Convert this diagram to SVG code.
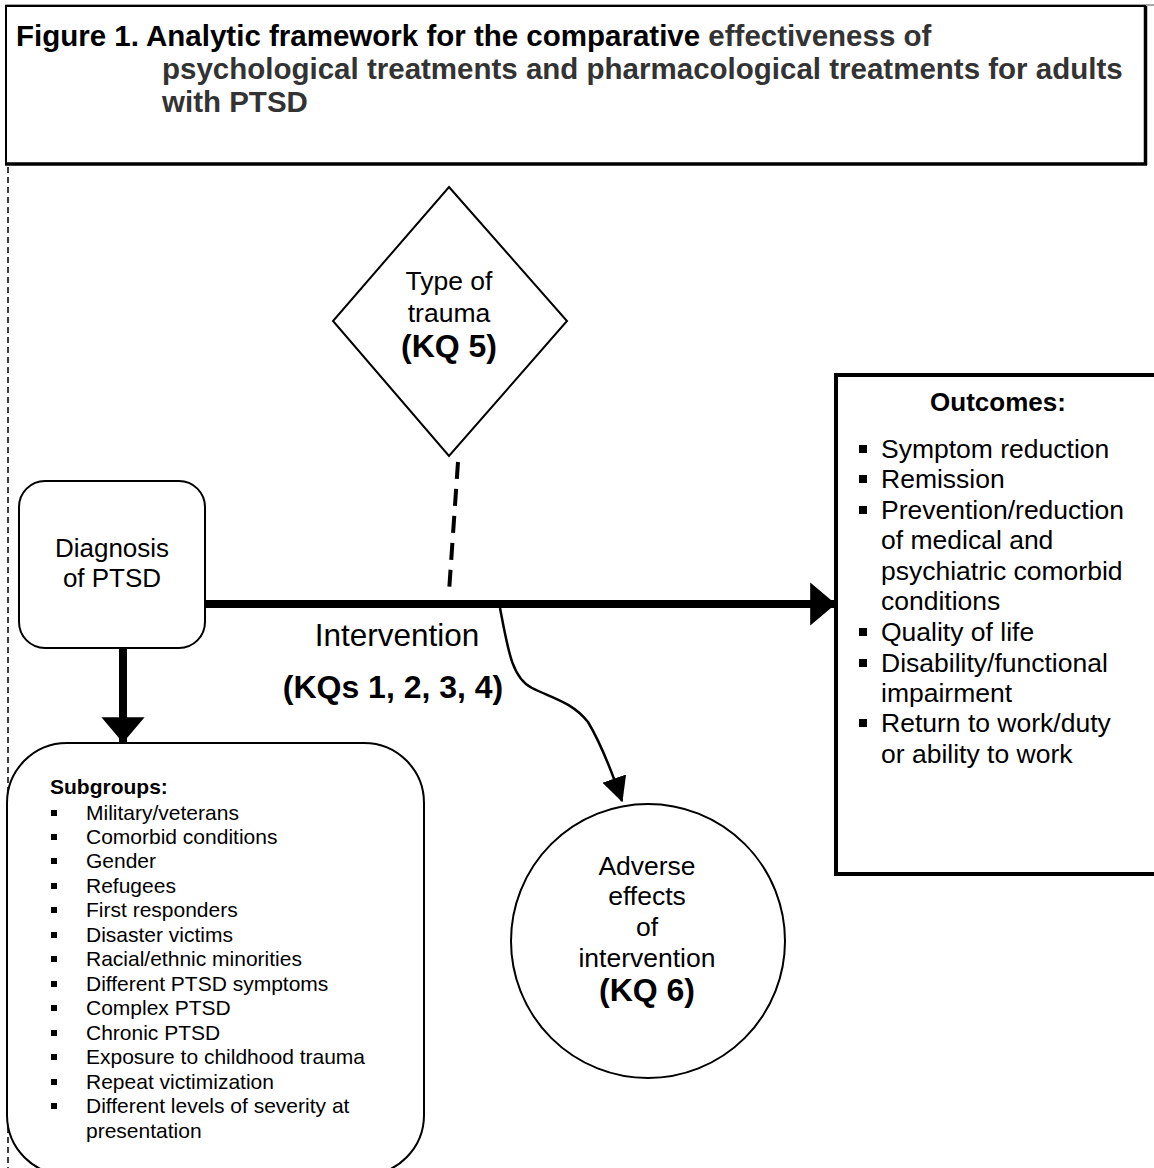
<svg xmlns="http://www.w3.org/2000/svg" width="1154" height="1168" viewBox="0 0 1154 1168">
<style>
text{font-family:"Liberation Sans",Arial,sans-serif;fill:#000}
.t{font-size:29.5px;font-weight:bold}
.g{fill:#333}
.n{font-size:26.5px;text-anchor:middle}
.k{font-size:32px;font-weight:bold;text-anchor:middle}
.s{font-size:21px}
.o{font-size:26.5px}
.shape{fill:#fff;stroke:#000;stroke-width:2}
</style>
<defs>
<marker id="ah" markerWidth="3.2" markerHeight="5.4" refX="3.1" refY="2.7" orient="auto" markerUnits="strokeWidth" viewBox="0 0 3.2 5.4"><path d="M0,0 L3.2,2.7 L0,5.4 Z" fill="#000"/></marker>
<marker id="ah2" markerWidth="10" markerHeight="10" refX="9.5" refY="5" orient="auto" markerUnits="strokeWidth" viewBox="0 0 10 10"><path d="M0,0 L10,5 L0,10 Z" fill="#000"/></marker>
</defs>
<rect width="1154" height="1168" fill="#fff"/>
<g id="title">
<line x1="5" y1="5" x2="1154" y2="5" stroke="#888" stroke-width="1.5"/>
<rect x="6" y="6" width="1139" height="158" fill="#fff" stroke="#000" stroke-width="2"/>
<line x1="5" y1="164" x2="1147" y2="164" stroke="#000" stroke-width="3.5"/>
<line x1="1145.5" y1="6" x2="1145.5" y2="165" stroke="#000" stroke-width="3.5"/>
<text class="t" x="16" y="46">Figure 1. Analytic framework for the comparative <tspan class="g">effectiveness of</tspan></text>
<text class="t g" x="162" y="79">psychological treatments and pharmacological treatments for adults</text>
<text class="t g" x="162" y="112">with PTSD</text>
</g>
<line x1="8" y1="167" x2="8" y2="1168" stroke="#000" stroke-width="1.5" stroke-dasharray="6,4"/>
<g id="connectors">
<path d="M458,462 L449,592" fill="none" stroke="#000" stroke-width="4" stroke-dasharray="17,10"/>
<line x1="205" y1="604" x2="835" y2="604" stroke="#000" stroke-width="8" marker-end="url(#ah)"/>
<line x1="123" y1="648" x2="123" y2="742" stroke="#000" stroke-width="8" marker-end="url(#ah)"/>
<path d="M500,608 C508,650 512,678 532,688 C552,698 572,702 588,722 C600,742 612,772 622,801" fill="none" stroke="#000" stroke-width="2.5" marker-end="url(#ah2)"/>
<text class="n" x="397" y="646" style="font-size:31.5px">Intervention</text>
<text class="k" x="393" y="698">(KQs 1, 2, 3, 4)</text>
</g>
<g id="trauma">
<polygon class="shape" points="449,187 567,321 449,456 333,321"/>
<text class="n" x="449" y="290">Type of</text>
<text class="n" x="449" y="322">trauma</text>
<text class="k" x="449" y="357">(KQ 5)</text>
</g>
<g id="diagnosis">
<rect class="shape" x="19" y="481" width="186" height="167" rx="26"/>
<text class="n" x="112" y="557" style="font-size:26px">Diagnosis</text>
<text class="n" x="112" y="587" style="font-size:26px">of PTSD</text>
</g>
<g id="subgroups">
<rect class="shape" x="7" y="743" width="417" height="432" rx="60"/>
<text class="s" x="50" y="794" style="font-weight:bold">Subgroups:</text>
<g fill="#000">
<rect x="51" y="810" width="6" height="6"/><rect x="51" y="834" width="6" height="6"/><rect x="51" y="858" width="6" height="6"/><rect x="51" y="883" width="6" height="6"/><rect x="51" y="907" width="6" height="6"/><rect x="51" y="932" width="6" height="6"/><rect x="51" y="956" width="6" height="6"/><rect x="51" y="981" width="6" height="6"/><rect x="51" y="1005" width="6" height="6"/><rect x="51" y="1030" width="6" height="6"/><rect x="51" y="1054" width="6" height="6"/><rect x="51" y="1079" width="6" height="6"/><rect x="51" y="1103" width="6" height="6"/>
</g>
<text class="s" x="86" y="820">Military/veterans</text>
<text class="s" x="86" y="844">Comorbid conditions</text>
<text class="s" x="86" y="868">Gender</text>
<text class="s" x="86" y="893">Refugees</text>
<text class="s" x="86" y="917">First responders</text>
<text class="s" x="86" y="942">Disaster victims</text>
<text class="s" x="86" y="966">Racial/ethnic minorities</text>
<text class="s" x="86" y="991">Different PTSD symptoms</text>
<text class="s" x="86" y="1015">Complex PTSD</text>
<text class="s" x="86" y="1040">Chronic PTSD</text>
<text class="s" x="86" y="1064">Exposure to childhood trauma</text>
<text class="s" x="86" y="1089">Repeat victimization</text>
<text class="s" x="86" y="1113">Different levels of severity at</text>
<text class="s" x="86" y="1138">presentation</text>
</g>
<g id="adverse">
<circle class="shape" cx="648" cy="941" r="137"/>
<text class="n" x="647" y="875">Adverse</text>
<text class="n" x="647" y="905">effects</text>
<text class="n" x="647" y="936">of</text>
<text class="n" x="647" y="967">intervention</text>
<text class="k" x="647" y="1001">(KQ 6)</text>
</g>
<g id="outcomes">
<rect x="836" y="375" width="330" height="499" fill="#fff" stroke="#000" stroke-width="4"/>
<text x="998" y="411" style="font-size:26px;font-weight:bold;text-anchor:middle">Outcomes:</text>
<g fill="#000">
<rect x="859" y="445" width="8" height="8"/><rect x="859" y="475" width="8" height="8"/><rect x="859" y="506" width="8" height="8"/><rect x="859" y="628" width="8" height="8"/><rect x="859" y="659" width="8" height="8"/><rect x="859" y="719" width="8" height="8"/>
</g>
<text class="o" x="881" y="458">Symptom reduction</text>
<text class="o" x="881" y="488">Remission</text>
<text class="o" x="881" y="519">Prevention/reduction</text>
<text class="o" x="881" y="549">of medical and</text>
<text class="o" x="881" y="580">psychiatric comorbid</text>
<text class="o" x="881" y="610">conditions</text>
<text class="o" x="881" y="641">Quality of life</text>
<text class="o" x="881" y="672">Disability/functional</text>
<text class="o" x="881" y="702">impairment</text>
<text class="o" x="881" y="732">Return to work/duty</text>
<text class="o" x="881" y="763">or ability to work</text>
</g>
</svg>
